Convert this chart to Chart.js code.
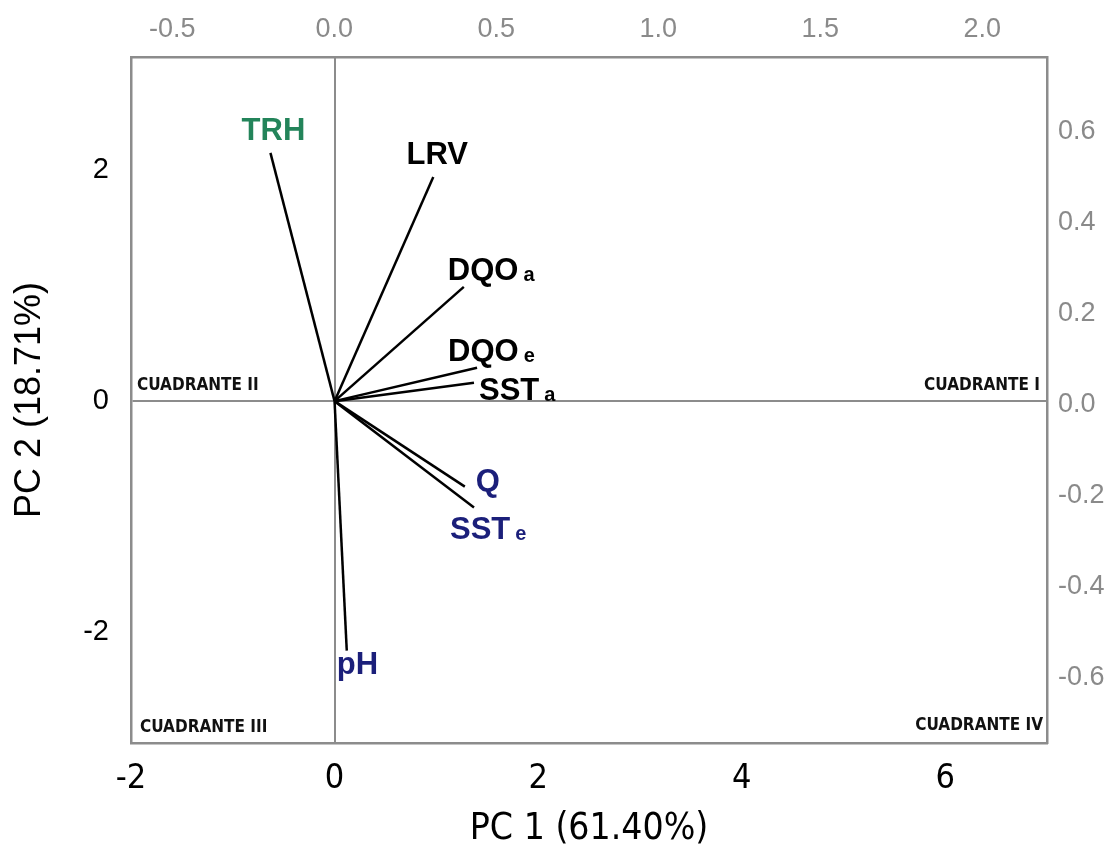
<!DOCTYPE html>
<html>
<head>
<meta charset="utf-8">
<script src="https://cdn.jsdelivr.net/npm/chart.js@4"></script>
<style>
  html, body { margin: 0; padding: 0; background: #fff; }
  #wrap { width: 1115px; height: 850px; }
</style>
</head>
<body>
<div id="wrap"><canvas id="biplot" width="1115" height="850"></canvas></div>
<script>
// variables of the biplot (loadings on PC1 / PC2)
const varNames = ["TRH", "LRV", "DQO", "DQO", "SST", "Q", "SST", "pH"];
const varSubs = ["", "", "a", "e", "a", "", "e", ""];
const pc1 = [-0.63, 0.97, 1.27, 1.40, 1.37, 1.28, 1.37, 0.12];
const pc2 = [2.15, 1.94, 0.99, 0.29, 0.16, -0.74, -0.92, -2.16];

// tick labels
const bottomTicks = [-2, 0, 2, 4, 6];
const leftTicks = [-2, 0, 2];
const topTicks = [-0.5, 0.0, 0.5, 1.0, 1.5, 2.0];
const rightTicks = [-0.6, -0.4, -0.2, 0.0, 0.2, 0.4, 0.6];

const quadrants = ["CUADRANTE I", "CUADRANTE II", "CUADRANTE III", "CUADRANTE IV"];

// label styling (colour, anchor, offset from the arrow tip in px)
const GREEN = "#23845a";
const NAVY = "#1b1f7a";
const labelStyle = [
    { color: GREEN, align: "center", dx: 3, dy: -21 },
    { color: "#000", align: "center", dx: 4, dy: -22 },
    { color: "#000", align: "left", dx: -16, dy: -15 },
    { color: "#000", align: "left", dx: -29, dy: -15 },
    { color: "#000", align: "left", dx: 5, dy: 9 },
    { color: NAVY, align: "left", dx: 11, dy: -4 },
    { color: NAVY, align: "left", dx: -24, dy: 23 },
    { color: NAVY, align: "left", dx: -10, dy: 15 },
];

const AXIS_GREY = "#8c8c8c";
const TICK_GREY = "#8a8a8a";
const NARROW = "'Liberation Sans Narrow', 'DejaVu Sans Condensed', 'Liberation Sans', sans-serif";
const ARIAL = "'Liberation Sans', Arial, sans-serif";

function fixTicks(values) {
    return function (scale) {
        scale.ticks = values.map(v => ({ value: v }));
    };
}

// arrows from the origin to each variable
const datasets = varNames.map((name, i) => ({
    label: name + varSubs[i],
    data: [{ x: 0, y: 0 }, { x: pc1[i], y: pc2[i] }],
    showLine: true,
    borderColor: "#000",
    borderWidth: 2.5,
    pointRadius: 0,
    xAxisID: "x",
    yAxisID: "y",
}));

// draws variable names and quadrant captions
const labelPlugin = {
    id: "biplotLabels",
    afterDatasetsDraw(chart) {
        const ctx = chart.ctx;
        const xs = chart.scales.x, ys = chart.scales.y;
        const area = chart.chartArea;
        ctx.save();
        ctx.textBaseline = "middle";
        ctx.textAlign = "left";
        varNames.forEach((name, i) => {
            const st = labelStyle[i];
            const px = xs.getPixelForValue(pc1[i]) + st.dx;
            const py = ys.getPixelForValue(pc2[i]) + st.dy;
            ctx.fillStyle = st.color;
            ctx.font = "bold 31px " + ARIAL;
            const w = ctx.measureText(name).width;
            const x0 = st.align === "center" ? px - w / 2 : px;
            ctx.fillText(name, x0, py);
            if (varSubs[i]) {
                ctx.font = "bold 20px " + ARIAL;
                ctx.fillText(varSubs[i], x0 + w + 5, py + 4);
            }
        });

        ctx.fillStyle = "#111";
        ctx.font = "bold 17px " + NARROW;
        const y0 = ys.getPixelForValue(0);
        ctx.textBaseline = "alphabetic";
        ctx.textAlign = "right";
        ctx.fillText(quadrants[0], area.right - 7, y0 - 11);
        ctx.fillText(quadrants[3], area.right - 4, area.bottom - 13);
        ctx.textAlign = "left";
        ctx.fillText(quadrants[1], area.left + 6, y0 - 11);
        ctx.fillText(quadrants[2], area.left + 9, area.bottom - 11);
        ctx.restore();
    },
};

new Chart(document.getElementById("biplot"), {
    type: "scatter",
    data: { datasets: datasets },
    options: {
        responsive: false,
        animation: false,
        events: [],
        layout: { padding: 0 },
        plugins: {
            legend: { display: false },
            tooltip: { enabled: false },
        },
        scales: {
            x: {
                type: "linear",
                position: "bottom",
                min: -2,
                max: 7,
                afterBuildTicks: fixTicks(bottomTicks),
                afterFit: s => { s.height = 107; },
                ticks: {
                    color: "#000",
                    padding: 16,
                    maxRotation: 0,
                    font: { family: NARROW, size: 34 },
                },
                grid: {
                    drawTicks: false,
                    lineWidth: 2,
                    color: c => (c.tick && c.tick.value === 0 ? AXIS_GREY : "rgba(0,0,0,0)"),
                },
                border: { display: true, color: AXIS_GREY, width: 2.5 },
                title: {
                    display: true,
                    text: "PC 1 (61.40%)",
                    color: "#000",
                    font: { family: NARROW, size: 37 },
                    padding: { top: 0, bottom: -2 },
                },
            },
            x2: {
                type: "linear",
                position: "top",
                min: -0.627,
                max: 2.2,
                afterBuildTicks: fixTicks(topTicks),
                afterFit: s => { s.height = 57; },
                ticks: {
                    color: TICK_GREY,
                    padding: 11,
                    maxRotation: 0,
                    font: { family: ARIAL, size: 27 },
                    callback: v => v.toFixed(1),
                },
                grid: { drawTicks: false, drawOnChartArea: false },
                border: { display: true, color: AXIS_GREY, width: 2.5 },
            },
            y: {
                type: "linear",
                position: "left",
                min: -2.96,
                max: 2.98,
                afterBuildTicks: fixTicks(leftTicks),
                afterFit: s => { s.width = 131; },
                ticks: {
                    color: "#000",
                    padding: 22,
                    font: { family: ARIAL, size: 29 },
                },
                grid: {
                    drawTicks: false,
                    lineWidth: 2,
                    color: c => (c.tick && c.tick.value === 0 ? AXIS_GREY : "rgba(0,0,0,0)"),
                },
                border: { display: true, color: AXIS_GREY, width: 2.5 },
                title: {
                    display: true,
                    text: "PC 2 (18.71%)",
                    color: "#000",
                    font: { family: ARIAL, size: 36 },
                    padding: { top: 8, bottom: 0 },
                },
            },
            y2: {
                type: "linear",
                position: "right",
                min: -0.745,
                max: 0.765,
                afterBuildTicks: fixTicks(rightTicks),
                afterFit: s => { s.width = 68; },
                ticks: {
                    color: TICK_GREY,
                    padding: 11,
                    font: { family: ARIAL, size: 27 },
                    callback: v => v.toFixed(1),
                },
                grid: { drawTicks: false, drawOnChartArea: false },
                border: { display: true, color: AXIS_GREY, width: 2.5 },
            },
        },
    },
    plugins: [labelPlugin],
});
</script>
</body>
</html>
